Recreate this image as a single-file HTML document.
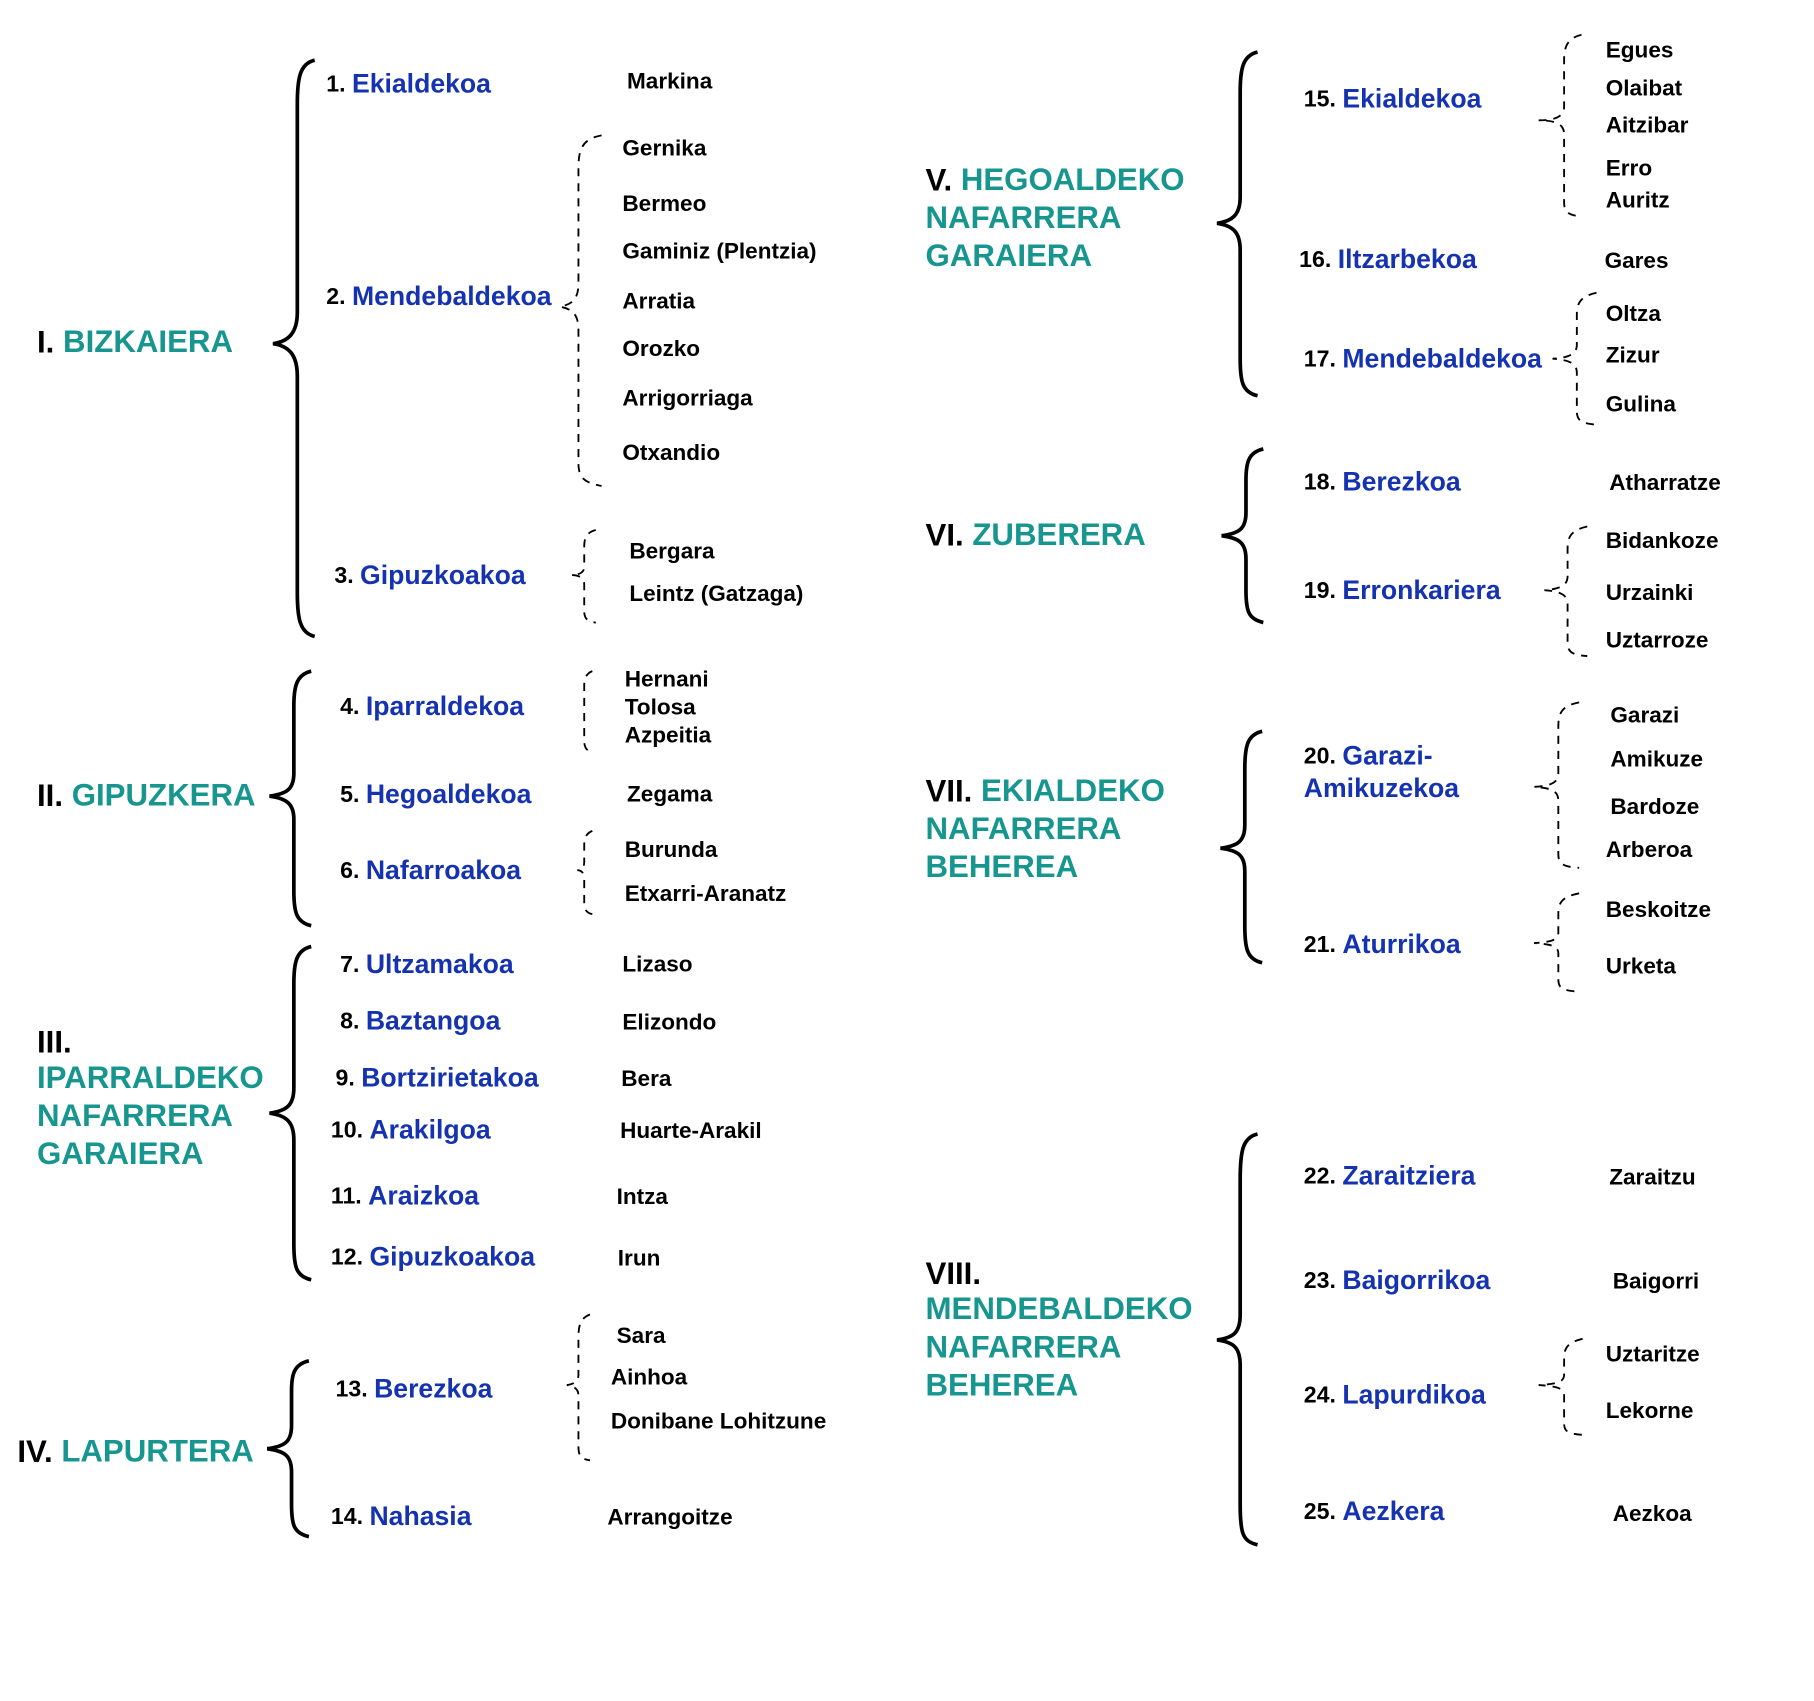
<!DOCTYPE html>
<html><head><meta charset="utf-8"><style>
html,body{margin:0;padding:0;background:#fff;width:1814px;height:1701px;overflow:hidden}
svg{display:block}
text{font-family:"Liberation Sans",Arial,sans-serif;dominant-baseline:central}
.t{font-size:27px;font-weight:bold;fill:#16968f}
.tn{fill:#000}
.n{font-size:20px;font-weight:bold;fill:#000}
.b{font-size:23px;font-weight:bold;fill:#1533b0}
.p{font-size:19.5px;font-weight:bold;fill:#000}
.br{fill:none;stroke:#000;stroke-width:3.2}
.db{fill:none;stroke:#000;stroke-width:1.6;stroke-dasharray:7,6}
</style></head><body>
<svg width="1814" height="1701" viewBox="0 0 1568 1470" preserveAspectRatio="none">
<path class="br" d="M272,52 C259,55 257,68 257,90 L257,270 C257,287 250,295 236,297 C250,299 257,307 257,325 L257,512 C257,534 259,547 272,550"/>
<path class="br" d="M269,580 C256,583 254,594 254,610 L254,668 C254,682 248,686 233,688 C248,690 254,695 254,708 L254,770 C254,788 256,797 269,800"/>
<path class="br" d="M269,818 C256,821 254,832 254,850 L254,940 C254,955 248,960 233,962 C248,964 254,970 254,985 L254,1075 C254,1095 256,1103 269,1106"/>
<path class="br" d="M267,1176 C254,1179 252,1188 252,1202 L252,1232 C252,1246 246,1250 231,1252 C246,1254 252,1258 252,1272 L252,1300 C252,1318 254,1325 267,1328"/>
<path class="br" d="M1087,45 C1074,48 1072,60 1072,80 L1072,170 C1072,185 1066,191 1052,193 C1066,195 1072,201 1072,216 L1072,310 C1072,330 1074,339 1087,342"/>
<path class="br" d="M1092,388 C1079,391 1077,400 1077,415 L1077,443 C1077,457 1071,461 1056,463 C1071,465 1077,469 1077,483 L1077,510 C1077,528 1079,535 1092,538"/>
<path class="br" d="M1091,632 C1078,635 1076,645 1076,665 L1076,713 C1076,727 1070,731 1055,733 C1070,735 1076,739 1076,753 L1076,800 C1076,820 1078,829 1091,832"/>
<path class="br" d="M1087,980 C1074,983 1072,995 1072,1020 L1072,1136 C1072,1152 1066,1156 1052,1158 C1066,1160 1072,1164 1072,1180 L1072,1300 C1072,1325 1074,1332 1087,1335"/>
<path class="db" d="M520,117 C504,120 500,128 500,145 L500,245 C500,258 495,263 484,265 C495,267 500,272 500,285 L500,400 C500,412 504,417 520,420"/>
<path class="db" d="M515,458 C507,460 505,465 505,472 L505,490 C505,495 500,497 494,497 C500,497 505,499 505,505 L505,528 C505,534 507,537 515,538"/>
<path class="db" d="M512,580 C507,582 505,586 505,592 L505,640 C505,646 507,649 512,650"/>
<path class="db" d="M512,718 C507,720 505,724 505,730 L505,745 C505,750 502,752 499,752 C502,752 505,754 505,759 L505,780 C505,786 507,789 512,790"/>
<path class="db" d="M510,1136 C502,1139 500,1145 500,1155 L500,1188 C500,1194 496,1196 490,1197 C496,1198 500,1200 500,1206 L500,1250 C500,1258 502,1261 510,1262"/>
<path class="db" d="M1367,30 C1355,33 1352,40 1352,52 L1352,92 C1352,100 1346,104 1330,104 C1346,104 1352,108 1352,116 L1352,175 C1352,183 1355,186 1367,187"/>
<path class="db" d="M1380,253 C1366,256 1363,262 1363,272 L1363,298 C1363,305 1358,309 1342,310 C1358,311 1363,315 1363,322 L1363,355 C1363,363 1366,366 1380,367"/>
<path class="db" d="M1372,455 C1358,458 1355,464 1355,474 L1355,498 C1355,505 1350,509 1335,510 C1350,511 1355,515 1355,522 L1355,555 C1355,563 1358,566 1372,567"/>
<path class="db" d="M1365,607 C1350,610 1347,616 1347,628 L1347,668 C1347,676 1342,679 1326,680 C1342,681 1347,684 1347,692 L1347,738 C1347,746 1350,749 1365,750"/>
<path class="db" d="M1365,772 C1350,775 1347,780 1347,790 L1347,806 C1347,812 1342,814 1326,815 C1342,816 1347,818 1347,824 L1347,846 C1347,854 1350,856 1365,857"/>
<path class="db" d="M1368,1157 C1355,1160 1352,1165 1352,1174 L1352,1188 C1352,1194 1347,1196 1330,1197 C1347,1198 1352,1200 1352,1206 L1352,1230 C1352,1237 1355,1239 1368,1240"/>

<text class="t" x="32" y="295"><tspan class="tn">I.</tspan> BIZKAIERA</text>
<text class="t" x="32" y="687"><tspan class="tn">II.</tspan> GIPUZKERA</text>
<text class="t" x="32" y="900"><tspan class="tn">III.</tspan></text>
<text class="t" x="32" y="931">IPARRALDEKO</text>
<text class="t" x="32" y="964">NAFARRERA</text>
<text class="t" x="32" y="997">GARAIERA</text>
<text class="t" x="15" y="1254"><tspan class="tn">IV.</tspan> LAPURTERA</text>
<text class="t" x="800" y="155"><tspan class="tn">V.</tspan> HEGOALDEKO</text>
<text class="t" x="800" y="188">NAFARRERA</text>
<text class="t" x="800" y="221">GARAIERA</text>
<text class="t" x="800" y="462"><tspan class="tn">VI.</tspan> ZUBERERA</text>
<text class="t" x="800" y="683"><tspan class="tn">VII.</tspan> EKIALDEKO</text>
<text class="t" x="800" y="716">NAFARRERA</text>
<text class="t" x="800" y="749">BEHEREA</text>
<text class="t" x="800" y="1100"><tspan class="tn">VIII.</tspan></text>
<text class="t" x="800" y="1131">MENDEBALDEKO</text>
<text class="t" x="800" y="1164">NAFARRERA</text>
<text class="t" x="800" y="1197">BEHEREA</text>

<text x="282" y="72"><tspan class="n">1. </tspan><tspan class="b">Ekialdekoa</tspan></text>
<text x="282" y="256"><tspan class="n">2. </tspan><tspan class="b">Mendebaldekoa</tspan></text>
<text x="289" y="497"><tspan class="n">3. </tspan><tspan class="b">Gipuzkoakoa</tspan></text>
<text x="294" y="610"><tspan class="n">4. </tspan><tspan class="b">Iparraldekoa</tspan></text>
<text x="294" y="686"><tspan class="n">5. </tspan><tspan class="b">Hegoaldekoa</tspan></text>
<text x="294" y="752"><tspan class="n">6. </tspan><tspan class="b">Nafarroakoa</tspan></text>
<text x="294" y="833"><tspan class="n">7. </tspan><tspan class="b">Ultzamakoa</tspan></text>
<text x="294" y="882"><tspan class="n">8. </tspan><tspan class="b">Baztangoa</tspan></text>
<text x="290" y="931"><tspan class="n">9. </tspan><tspan class="b">Bortzirietakoa</tspan></text>
<text x="286" y="976"><tspan class="n">10. </tspan><tspan class="b">Arakilgoa</tspan></text>
<text x="286" y="1033"><tspan class="n">11. </tspan><tspan class="b">Araizkoa</tspan></text>
<text x="286" y="1086"><tspan class="n">12. </tspan><tspan class="b">Gipuzkoakoa</tspan></text>
<text x="290" y="1200"><tspan class="n">13. </tspan><tspan class="b">Berezkoa</tspan></text>
<text x="286" y="1310"><tspan class="n">14. </tspan><tspan class="b">Nahasia</tspan></text>
<text x="1127" y="85"><tspan class="n">15. </tspan><tspan class="b">Ekialdekoa</tspan></text>
<text x="1123" y="224"><tspan class="n">16. </tspan><tspan class="b">Iltzarbekoa</tspan></text>
<text x="1127" y="310"><tspan class="n">17. </tspan><tspan class="b">Mendebaldekoa</tspan></text>
<text x="1127" y="416"><tspan class="n">18. </tspan><tspan class="b">Berezkoa</tspan></text>
<text x="1127" y="510"><tspan class="n">19. </tspan><tspan class="b">Erronkariera</tspan></text>
<text x="1127" y="653"><tspan class="n">20. </tspan><tspan class="b">Garazi-</tspan></text>
<text x="1127" y="681" class="b">Amikuzekoa</text>
<text x="1127" y="816"><tspan class="n">21. </tspan><tspan class="b">Aturrikoa</tspan></text>
<text x="1127" y="1016"><tspan class="n">22. </tspan><tspan class="b">Zaraitziera</tspan></text>
<text x="1127" y="1106"><tspan class="n">23. </tspan><tspan class="b">Baigorrikoa</tspan></text>
<text x="1127" y="1205"><tspan class="n">24. </tspan><tspan class="b">Lapurdikoa</tspan></text>
<text x="1127" y="1306"><tspan class="n">25. </tspan><tspan class="b">Aezkera</tspan></text>

<text class="p" x="542" y="70">Markina</text>
<text class="p" x="538" y="128">Gernika</text>
<text class="p" x="538" y="176">Bermeo</text>
<text class="p" x="538" y="217">Gaminiz (Plentzia)</text>
<text class="p" x="538" y="260">Arratia</text>
<text class="p" x="538" y="301">Orozko</text>
<text class="p" x="538" y="344">Arrigorriaga</text>
<text class="p" x="538" y="391">Otxandio</text>
<text class="p" x="544" y="476">Bergara</text>
<text class="p" x="544" y="513">Leintz (Gatzaga)</text>
<text class="p" x="540" y="587">Hernani</text>
<text class="p" x="540" y="611">Tolosa</text>
<text class="p" x="540" y="635">Azpeitia</text>
<text class="p" x="542" y="686">Zegama</text>
<text class="p" x="540" y="734">Burunda</text>
<text class="p" x="540" y="772">Etxarri-Aranatz</text>
<text class="p" x="538" y="833">Lizaso</text>
<text class="p" x="538" y="883">Elizondo</text>
<text class="p" x="537" y="932">Bera</text>
<text class="p" x="536" y="977">Huarte-Arakil</text>
<text class="p" x="533" y="1034">Intza</text>
<text class="p" x="534" y="1087">Irun</text>
<text class="p" x="533" y="1154">Sara</text>
<text class="p" x="528" y="1190">Ainhoa</text>
<text class="p" x="528" y="1228">Donibane Lohitzune</text>
<text class="p" x="525" y="1311">Arrangoitze</text>
<text class="p" x="1388" y="43">Egues</text>
<text class="p" x="1388" y="76">Olaibat</text>
<text class="p" x="1388" y="108">Aitzibar</text>
<text class="p" x="1388" y="145">Erro</text>
<text class="p" x="1388" y="173">Auritz</text>
<text class="p" x="1387" y="225">Gares</text>
<text class="p" x="1388" y="271">Oltza</text>
<text class="p" x="1388" y="307">Zizur</text>
<text class="p" x="1388" y="349">Gulina</text>
<text class="p" x="1391" y="417">Atharratze</text>
<text class="p" x="1388" y="467">Bidankoze</text>
<text class="p" x="1388" y="512">Urzainki</text>
<text class="p" x="1388" y="553">Uztarroze</text>
<text class="p" x="1392" y="618">Garazi</text>
<text class="p" x="1392" y="656">Amikuze</text>
<text class="p" x="1392" y="697">Bardoze</text>
<text class="p" x="1388" y="734">Arberoa</text>
<text class="p" x="1388" y="786">Beskoitze</text>
<text class="p" x="1388" y="835">Urketa</text>
<text class="p" x="1391" y="1017">Zaraitzu</text>
<text class="p" x="1394" y="1107">Baigorri</text>
<text class="p" x="1388" y="1170">Uztaritze</text>
<text class="p" x="1388" y="1219">Lekorne</text>
<text class="p" x="1394" y="1308">Aezkoa</text>
</svg>
</body></html>
